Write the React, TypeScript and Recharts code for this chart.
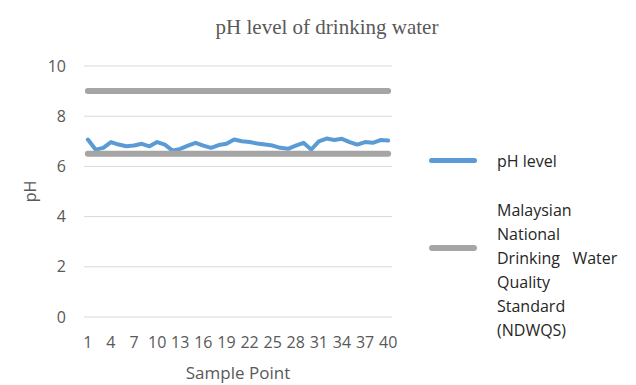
import { LineChart, Line, XAxis, YAxis, CartesianGrid } from "recharts";

const samplePoints = [
  1, 2, 3, 4, 5, 6, 7, 8, 9, 10, 11, 12, 13, 14, 15, 16, 17, 18, 19, 20,
  21, 22, 23, 24, 25, 26, 27, 28, 29, 30, 31, 32, 33, 34, 35, 36, 37, 38, 39, 40,
];

const phLevel = [
  7.07, 6.67, 6.74, 6.97, 6.87, 6.8, 6.83, 6.9, 6.8, 6.97,
  6.87, 6.63, 6.7, 6.83, 6.94, 6.83, 6.74, 6.85, 6.9, 7.07,
  7.0, 6.97, 6.91, 6.87, 6.83, 6.74, 6.7, 6.83, 6.94, 6.67,
  7.0, 7.11, 7.05, 7.1, 6.97, 6.87, 6.97, 6.94, 7.05, 7.03,
];

// NDWQS limits for pH
const standardMin = 6.5;
const standardMax = 9;

const xTicks = [1, 4, 7, 10, 13, 16, 19, 22, 25, 28, 31, 34, 37, 40];
const yTicks = [0, 2, 4, 6, 8, 10];

const legendPh = "pH level";
const legendStandard = ["Malaysian", "National", "Drinking\u00a0\u00a0\u00a0Water", "Quality", "Standard", "(NDWQS)"];

const data = samplePoints.map((x, i) => ({
  x,
  ph: phLevel[i],
  lo: standardMin,
  hi: standardMax,
}));

const FONT = "'Open Sans', sans-serif";
const TEXT = "#595959";
const BLUE = "#5b9bd5";
const GREY = "#a5a5a5";

export default function App() {
  return (
    <div style={{ position: "relative", width: 636, height: 385, background: "#fff" }}>
      <style>{"body{margin:0}"}</style>
      <div
        style={{
          position: "absolute",
          top: 15,
          left: 0,
          width: 654,
          textAlign: "center",
          fontFamily: "'Liberation Serif', serif",
          fontSize: 21,
          color: TEXT,
        }}
      >
        pH level of drinking water
      </div>

      <LineChart
        width={636}
        height={385}
        data={data}
        margin={{ top: 66, right: 244, bottom: 0, left: 0 }}
      >
        <CartesianGrid vertical={false} stroke="#d9d9d9" />
        <XAxis
          dataKey="x"
          type="number"
          domain={[0.5, 40.5]}
          ticks={xTicks}
          interval={0}
          axisLine={false}
          tickLine={false}
          tickSize={0}
          tickMargin={20}
          height={68}
          tick={{ fontSize: 16, fill: TEXT, fontFamily: FONT }}
          label={{
            value: "Sample Point",
            position: "insideBottom",
            offset: 6,
            style: { fontSize: 17, fill: TEXT, fontFamily: FONT },
          }}
        />
        <YAxis
          domain={[0, 10]}
          ticks={yTicks}
          axisLine={false}
          tickLine={false}
          tickSize={0}
          tickMargin={18}
          width={84}
          tick={{ fontSize: 16, fill: TEXT, fontFamily: FONT }}
          label={{
            value: "pH",
            angle: -90,
            position: "insideLeft",
            offset: 30,
            style: { fontSize: 16, fill: TEXT, fontFamily: FONT, textAnchor: "middle" },
          }}
        />
        <Line
          dataKey="ph"
          stroke={BLUE}
          strokeWidth={4}
          strokeLinecap="round"
          strokeLinejoin="round"
          dot={false}
          type="linear"
          isAnimationActive={false}
        />
        <Line
          dataKey="lo"
          stroke={GREY}
          strokeWidth={6}
          strokeLinecap="round"
          dot={false}
          type="linear"
          isAnimationActive={false}
        />
        <Line
          dataKey="hi"
          stroke={GREY}
          strokeWidth={6}
          strokeLinecap="round"
          dot={false}
          type="linear"
          isAnimationActive={false}
        />
      </LineChart>

      <div style={{ position: "absolute", left: 429, top: 158, width: 48, height: 5, background: BLUE, borderRadius: 3 }} />
      <div
        style={{
          position: "absolute",
          left: 497,
          top: 149,
          fontFamily: FONT,
          fontSize: 16,
          color: "#262626",
          lineHeight: "24px",
        }}
      >
        {legendPh}
      </div>

      <div style={{ position: "absolute", left: 429, top: 245, width: 48, height: 6, background: GREY, borderRadius: 3 }} />
      <div
        style={{
          position: "absolute",
          left: 497,
          top: 198,
          fontFamily: FONT,
          fontSize: 16,
          color: "#262626",
          lineHeight: "24px",
        }}
      >
        {legendStandard.map((l) => (
          <div key={l}>{l}</div>
        ))}
      </div>
    </div>
  );
}
